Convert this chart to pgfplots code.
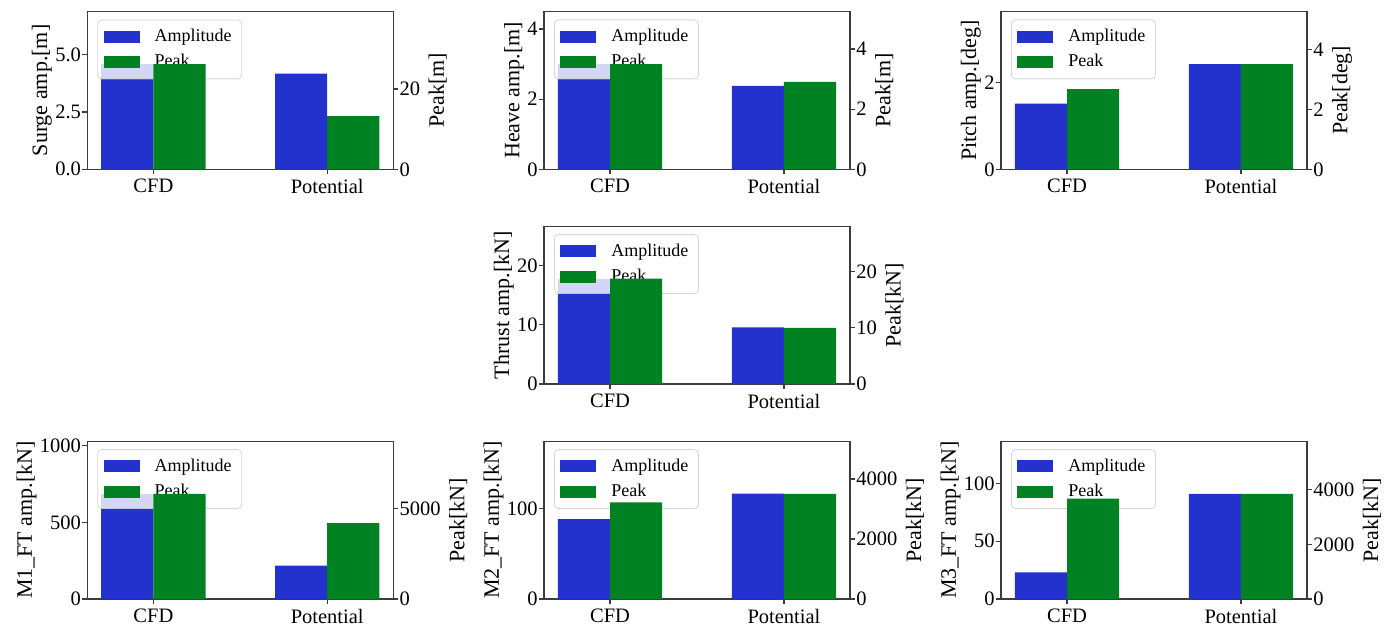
\documentclass[border=0pt]{standalone}
\usepackage{pgfplots}
\pgfplotsset{compat=1.18}
\usepackage{fontspec}
\setmainfont{Liberation Serif}
\definecolor{cblue}{RGB}{35,50,205}
\definecolor{cgreen}{RGB}{0,130,35}
\definecolor{spine}{RGB}{60,60,60}
\pgfplotsset{
  barleg/.style={legend image code/.code={\fill[##1,sharp corners,fill opacity=1] (0pt,-3pt) rectangle (18pt,3pt);}},
  base/.style={scale only axis, width=153pt, height=78.9pt, anchor=south west,
    xmin=-0.38, xmax=1.38, ymin=0, ybar, bar width=0.3,
    axis line style={spine, line width=0.6pt}, tick style={spine, line width=0.6pt},
    tick align=outside, major tick length=2.5pt,
    ticklabel style={font=\fontsize{10.25}{12}\selectfont},
    yticklabel style={inner xsep=0.5pt},
    xticklabel style={inner ysep=2.3pt},
    label style={font=\fontsize{11}{13}\selectfont},
    every axis y label/.append style={inner sep=0pt},
    /pgf/number format/assume math mode=true,
    /pgf/number format/1000 sep={},
    scaled y ticks=false},
  lefta/.style={base, xtick={0,1}, xticklabels={CFD,Potential}, xtick pos=bottom, ytick pos=left,
    ylabel shift=1pt,
    legend cell align=left,
    legend style={at={(0,1)}, anchor=north west, xshift=5pt, yshift=-4pt,
      fill=white, fill opacity=0.8, draw opacity=0.8, text opacity=1, draw=black!20,
      rounded corners=2pt, font=\fontsize{9}{10}\selectfont, row sep=1pt,
      inner xsep=3pt, inner ysep=2.5pt,
      /tikz/every odd column/.append style={column sep=5.5pt}}},
  righta/.style={base, axis x line=none, axis y line*=right, xtick=\empty, ylabel shift=3.5pt},
  bl/.style={fill=cblue, draw=none, bar shift=-0.15, barleg},
  gr/.style={fill=cgreen, draw=none, bar shift=0.15, barleg},
}
\begin{document}
\begin{tikzpicture}
% ---------- Surge
\begin{axis}[lefta, at={(43.65pt,-84.65pt)}, ymax=6.885, ytick={0,2.5,5},
  yticklabel style={/pgf/number format/fixed, /pgf/number format/fixed zerofill, /pgf/number format/precision=1},
  ylabel={Surge amp.[m]}]
\addplot[bl] coordinates {(0,4.59) (1,4.17)};
\addlegendentry{Amplitude}
\addlegendimage{gr}
\addlegendentry{Peak}
\end{axis}
\begin{axis}[righta, at={(43.65pt,-84.65pt)}, ymax=39.3, ytick={0,20}, ylabel={Peak[m]}]
\addplot[gr] coordinates {(0,26.2) (1,13.25)};
\end{axis}
% ---------- Heave
\begin{axis}[lefta, at={(272pt,-84.65pt)}, ymax=4.5, ytick={0,2,4}, ylabel={Heave amp.[m]}]
\addplot[bl] coordinates {(0,3.0) (1,2.38)};
\addlegendentry{Amplitude}
\addlegendimage{gr}
\addlegendentry{Peak}
\end{axis}
\begin{axis}[righta, at={(272pt,-84.65pt)}, ymax=5.25, ytick={0,2,4}, ylabel={Peak[m]}]
\addplot[gr] coordinates {(0,3.5) (1,2.91)};
\end{axis}
% ---------- Pitch
\begin{axis}[lefta, at={(500.5pt,-84.65pt)}, ymax=3.63, ytick={0,2}, ylabel={Pitch amp.[deg]}]
\addplot[bl] coordinates {(0,1.51) (1,2.42)};
\addlegendentry{Amplitude}
\addlegendimage{gr}
\addlegendentry{Peak}
\end{axis}
\begin{axis}[righta, at={(500.5pt,-84.65pt)}, ymax=5.28, ytick={0,2,4}, ylabel={Peak[deg]}]
\addplot[gr] coordinates {(0,2.68) (1,3.52)};
\end{axis}
% ---------- Thrust
\begin{axis}[lefta, at={(272pt,-192pt)}, ymax=26.6, ytick={0,10,20}, ylabel={Thrust amp.[kN]}]
\addplot[bl] coordinates {(0,17.7) (1,9.56)};
\addlegendentry{Amplitude}
\addlegendimage{gr}
\addlegendentry{Peak}
\end{axis}
\begin{axis}[righta, at={(272pt,-192pt)}, ymax=28.0, ytick={0,10,20}, ylabel={Peak[kN]}]
\addplot[gr] coordinates {(0,18.7) (1,9.96)};
\end{axis}
% ---------- M1
\begin{axis}[lefta, at={(43.65pt,-299.5pt)}, ymax=1030, ytick={0,500,1000}, ylabel={M1\_FT amp.[kN]}]
\addplot[bl] coordinates {(0,686) (1,218)};
\addlegendentry{Amplitude}
\addlegendimage{gr}
\addlegendentry{Peak}
\end{axis}
\begin{axis}[righta, at={(43.65pt,-299.5pt)}, ymax=8750, ytick={0,5000}, ylabel={Peak[kN]}]
\addplot[gr] coordinates {(0,5833) (1,4204)};
\end{axis}
% ---------- M2
\begin{axis}[lefta, at={(272pt,-299.5pt)}, ymax=174.8, ytick={0,100}, ylabel={M2\_FT amp.[kN]}]
\addplot[bl] coordinates {(0,88.6) (1,116.6)};
\addlegendentry{Amplitude}
\addlegendimage{gr}
\addlegendentry{Peak}
\end{axis}
\begin{axis}[righta, at={(272pt,-299.5pt)}, ymax=5262, ytick={0,2000,4000}, ylabel={Peak[kN]}]
\addplot[gr] coordinates {(0,3223) (1,3508)};
\end{axis}
% ---------- M3
\begin{axis}[lefta, at={(500.5pt,-299.5pt)}, ymax=136.5, ytick={0,50,100}, ylabel={M3\_FT amp.[kN]}]
\addplot[bl] coordinates {(0,23.1) (1,91.0)};
\addlegendentry{Amplitude}
\addlegendimage{gr}
\addlegendentry{Peak}
\end{axis}
\begin{axis}[righta, at={(500.5pt,-299.5pt)}, ymax=5770, ytick={0,2000,4000}, ylabel={Peak[kN]}]
\addplot[gr] coordinates {(0,3668) (1,3847)};
\end{axis}
\pgfresetboundingbox
\useasboundingbox (0,0) rectangle (698pt,-313pt);
\end{tikzpicture}
\end{document}
